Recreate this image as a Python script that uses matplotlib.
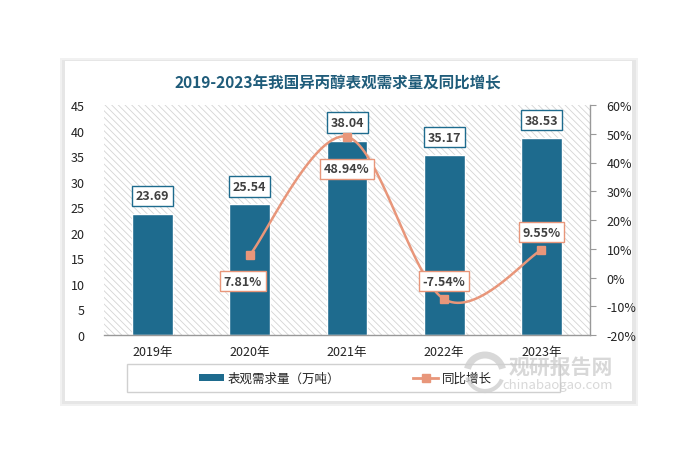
import numpy as np
import matplotlib
matplotlib.use("Agg")
import matplotlib.pyplot as plt
from matplotlib.patches import Rectangle, Arc
from matplotlib.ticker import FuncFormatter, MultipleLocator
from matplotlib.lines import Line2D

plt.rcParams['font.family'] = ['Noto Sans CJK SC', 'DejaVu Sans']
plt.rcParams['hatch.linewidth'] = 0.6
plt.rcParams['hatch.color'] = '#d4d4d4'

years = ["2019年", "2020年", "2021年", "2022年", "2023年"]
demand = [23.69, 25.54, 38.04, 35.17, 38.53]
growth = [np.nan, 7.81, 48.94, -7.54, 9.55]
demand_labels = ["23.69", "25.54", "38.04", "35.17", "38.53"]
growth_labels = ["", "7.81%", "48.94%", "-7.54%", "9.55%"]
title = "2019-2023年我国异丙醇表观需求量及同比增长"
bar_name = "表观需求量（万吨）"
line_name = "同比增长"

BAR = '#1e6b8e'
LINE = '#e8967a'
W, H = 693, 464
fig = plt.figure(figsize=(W / 100, H / 100), dpi=100)
fig.patch.set_facecolor('white')

def fx(px):
    return px / W

def fy(py):
    return 1 - py / H

# panel with shadow
for off, col in [(4, '#f1f1f1'), (2, '#e6e6e6')]:
    fig.patches.append(Rectangle((fx(64 - off), fy(403 + off)), fx(570 + 2 * off), (340 + 2 * off) / H,
                                 transform=fig.transFigure, facecolor=col, edgecolor='none', zorder=-10))
fig.patches.append(Rectangle((fx(65), fy(402)), fx(567), 340 / H, transform=fig.transFigure,
                             facecolor='white', edgecolor='none', zorder=-9))
# legend frame
fig.patches.append(Rectangle((fx(127), fy(393)), fx(433), 28 / H, transform=fig.transFigure,
                             facecolor='none', edgecolor='#d0d0d0', linewidth=1.0, zorder=-8))

ax = fig.add_axes([fx(104), fy(336), fx(486), 230 / H])
ax.set_facecolor('none')
ax.add_patch(Rectangle((0, 0), 1, 1, transform=ax.transAxes, facecolor='white', hatch='\\' * 5,
                       edgecolor='#d4d4d4', linewidth=0, zorder=-1))

x = np.arange(len(years))
ax.bar(x, demand, width=0.42, color=BAR, edgecolor='white', linewidth=1.0, zorder=2)
ax.set_xlim(-0.5, len(years) - 0.5)
ax.set_ylim(0, 45)
ax.yaxis.set_major_locator(MultipleLocator(5))
ax.set_xticks(x)
ax.set_xticklabels(years, fontsize=9, color='#222222')
ax.tick_params(axis='x', length=0, pad=7)
ax.tick_params(axis='y', length=0, pad=14, labelsize=9, labelcolor='#222222')
for s in ['top', 'left', 'right']:
    ax.spines[s].set_visible(False)
ax.spines['bottom'].set_color('#999999')
ax.spines['bottom'].set_linewidth(1.0)

for xi, v, lab in zip(x, demand, demand_labels):
    ax.annotate(lab, (xi, v), xytext=(0, 18), textcoords='offset pixels',
                ha='center', va='center', fontsize=9, fontweight='bold', color='#404040', zorder=5,
                bbox=dict(boxstyle='square,pad=0.3', facecolor='white', edgecolor=BAR, linewidth=1.0))

ax2 = ax.twinx()
ax2.set_ylim(-20, 60)
ax2.yaxis.set_major_locator(MultipleLocator(10))
ax2.yaxis.set_major_formatter(FuncFormatter(lambda v, p: f"{v:.0f}%"))
ax2.tick_params(axis='y', length=4, width=0.8, color='#999999', pad=8, labelsize=9, labelcolor='#222222')
for s in ['top', 'left', 'bottom']:
    ax2.spines[s].set_visible(False)
ax2.spines['right'].set_color('#999999')
ax2.spines['right'].set_linewidth(1.0)

# smoothed line (Excel-like Bezier smoothing in screen proportions)
gx = np.array([xi for xi, g in zip(x, growth) if not np.isnan(g)], dtype=float)
gy = np.array([g for g in growth if not np.isnan(g)], dtype=float)
sx, sy = 97.2, 230 / 80.0
P = np.column_stack([gx * sx, gy * sy])
curve = []
n = len(P)
for i in range(n - 1):
    p0 = P[i - 1] if i > 0 else P[i]
    p1, p2 = P[i], P[i + 1]
    p3 = P[i + 2] if i + 2 < n else P[i + 1]
    c1 = p1 + (p2 - p0) / 6
    c2 = p2 - (p3 - p1) / 6
    t = np.linspace(0, 1, 40)[:, None]
    seg = (1 - t) ** 3 * p1 + 3 * (1 - t) ** 2 * t * c1 + 3 * (1 - t) * t ** 2 * c2 + t ** 3 * p2
    curve.append(seg if i == 0 else seg[1:])
curve = np.vstack(curve)
ax2.plot(curve[:, 0] / sx, curve[:, 1] / sy, color=LINE, linewidth=1.8, zorder=3)
ax2.plot(gx, gy, linestyle='none', marker='s', markersize=6, color=LINE, zorder=4)

offs = [0, -26, -32, 18, 18]
for xi, g, lab, o in zip(x, growth, growth_labels, offs):
    if np.isnan(g):
        continue
    ax2.annotate(lab, (xi, g), xytext=(-7 if xi == 1 else 0, o), textcoords='offset pixels',
                 ha='center', va='center', fontsize=9, fontweight='bold', color='#404040', zorder=6,
                 bbox=dict(boxstyle='square,pad=0.3', facecolor='white', edgecolor=LINE, linewidth=1.0))

fig.text(fx(337.5), fy(83), title, ha='center', va='center', fontsize=11.2, fontweight='bold', color='#1f5c7a')

# watermark
r = 18
for (t1, t2, lw) in [(20, 160, 5), (200, 330, 3)]:
    fig.patches.append(Arc((fx(485), fy(374)), 2 * r / W, 2 * r / H, theta1=t1, theta2=t2,
                           transform=fig.transFigure, color='#cfcfcf', linewidth=lw, alpha=0.8, zorder=9))
fig.text(fx(561), fy(367), "观研报告网", ha='center', va='center', fontsize=15, fontweight='bold',
         color='#c4c4c4', alpha=0.65, zorder=10)
fig.text(fx(558), fy(385), "chinabaogao.com", ha='center', va='center', fontsize=9.5,
         color='#c4c4c4', alpha=0.65, zorder=10)

# legend
handles = [Rectangle((0, 0), 1, 1, facecolor=BAR, edgecolor='none'),
           Line2D([0], [0], color=LINE, linewidth=2, marker='s', markersize=6)]
leg = fig.legend(handles, [bar_name, line_name], loc='center',
                 bbox_to_anchor=(fx(345.5), fy(379.5)), bbox_transform=fig.transFigure,
                 ncol=2, frameon=False, fontsize=9, handlelength=2.0, handleheight=0.5,
                 handletextpad=0.3, columnspacing=5.8)
for t in leg.get_texts():
    t.set_color('#222222')

fig.savefig('out.png', dpi=100, facecolor='white')
